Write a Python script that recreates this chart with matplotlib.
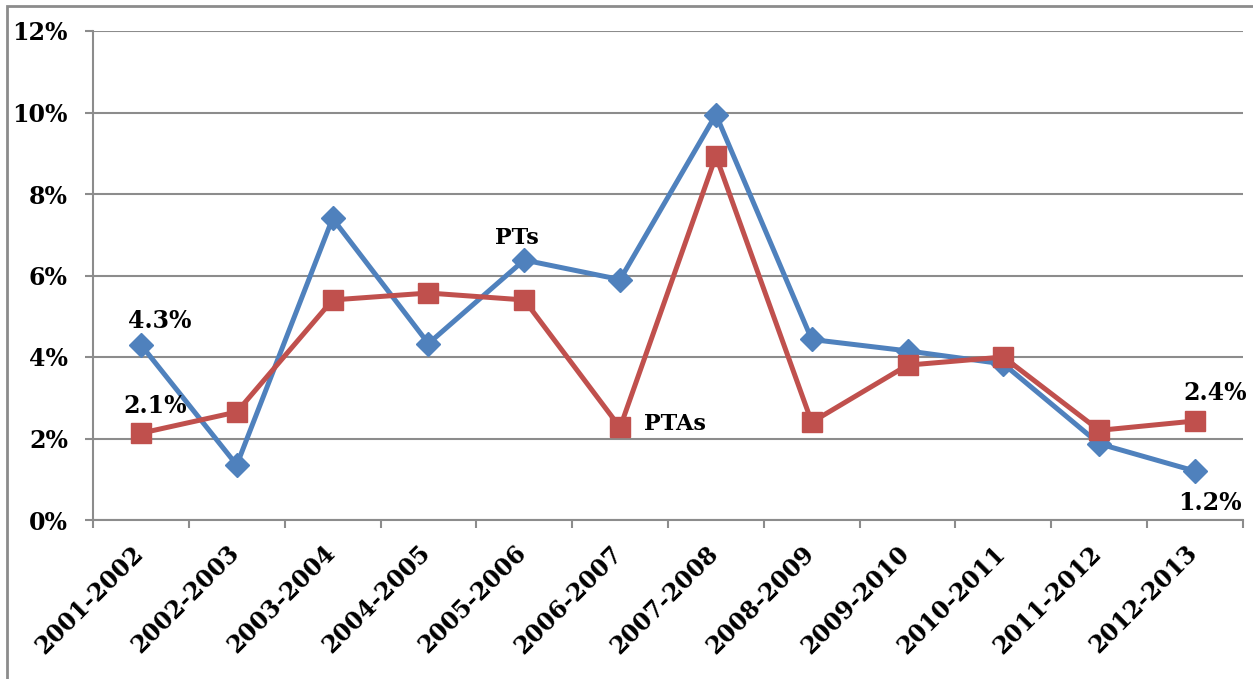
import matplotlib.pyplot as plt
import matplotlib.transforms as mtransforms
from matplotlib.patches import Rectangle
import numpy as np

years = ['2001-2002', '2002-2003', '2003-2004', '2004-2005', '2005-2006', '2006-2007',
         '2007-2008', '2008-2009', '2009-2010', '2010-2011', '2011-2012', '2012-2013']
pts = [4.3, 1.35, 7.4, 4.33, 6.38, 5.9, 9.95, 4.43, 4.15, 3.83, 1.87, 1.2]
ptas = [2.13, 2.65, 5.4, 5.57, 5.4, 2.27, 8.93, 2.4, 3.8, 4.0, 2.2, 2.43]
yticks = [0, 2, 4, 6, 8, 10, 12]

blue = '#4F81BD'
red = '#C0504D'
grey = '#8C8C8C'
plt.rcParams['font.family'] = ['DejaVu Serif']
plt.rcParams['font.weight'] = 'bold'

fig = plt.figure(figsize=(12.53, 6.79), dpi=100)
ax = fig.add_axes([93/1253, 1-520/679, 1150/1253, 489/679])

x = np.arange(len(years))
ax.plot(x, pts, color=blue, lw=3.6, marker='D', ms=12, zorder=3)
ax.plot(x, ptas, color=red, lw=3.6, marker='s', ms=14, zorder=4)

ax.set_xlim(-0.5, 11.5)
ax.set_ylim(0, 12)
ax.set_yticks(yticks)
ax.set_yticklabels([str(v) + '%' for v in yticks])
ax.set_xticks(np.arange(-0.5, 12, 1))
ax.set_xticklabels([])
ax.set_xticks(x, minor=True)
ax.set_xticklabels(years, minor=True, rotation=45, ha='right', va='top')
ax.tick_params(axis='x', which='minor', length=0, pad=15, labelsize=17)
ax.tick_params(axis='x', which='major', length=6, width=1.5, color=grey)
ax.tick_params(axis='y', length=6, width=1.5, color=grey, pad=12, labelsize=17)
off = mtransforms.ScaledTranslation(7/100, 0, fig.dpi_scale_trans)
for lab in ax.get_xticklabels(minor=True):
    lab.set_transform(lab.get_transform() + off)

ax.yaxis.grid(True, color=grey, lw=1.5)
ax.set_axisbelow(True)
for s in ['top', 'right']:
    ax.spines[s].set_visible(False)
for s in ['left', 'bottom']:
    ax.spines[s].set_color(grey)
    ax.spines[s].set_linewidth(1.5)

# labels on the lines
ax.text(0.2, 4.88, '4.3%', fontsize=17, ha='center', va='center')
ax.text(0.15, 2.8, '2.1%', fontsize=17, ha='center', va='center')
ax.text(3.92, 6.92, 'PTs', fontsize=16, ha='center', va='center')
ax.text(5.57, 2.36, 'PTAs', fontsize=16, ha='center', va='center')
ax.text(11.21, 3.12, '2.4%', fontsize=17, ha='center', va='center')
ax.text(11.16, 0.42, '1.2%', fontsize=17, ha='center', va='center')

fig.patches.append(Rectangle((7/1253, -0.05), 1.1, 1.05 - 6/679, transform=fig.transFigure,
                             fill=False, edgecolor=grey, lw=2))

plt.savefig('out.png', dpi=100)
